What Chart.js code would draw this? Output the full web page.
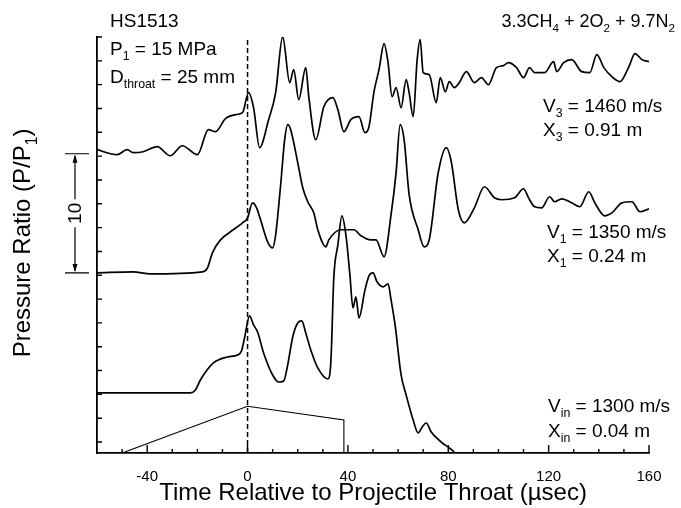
<!DOCTYPE html>
<html><head><meta charset="utf-8">
<script src="https://cdn.jsdelivr.net/npm/chart.js@4.4.1/dist/chart.umd.min.js"></script>
<style>html,body{margin:0;padding:0;background:#fff}#wrap{width:681px;height:508px}</style>
</head><body><div id="wrap"><canvas id="c" width="681" height="508"></canvas></div>
<script>
// ---- data (time in microseconds, pressure ratio P/P1) ----
const TIME_TOP = [-60,-52,-48,-45.6,-41.6,-36,-30.8,-26,-20,-15.6,-12.8,-8.8,-4.8,-2,0.4,2.4,4.8,8.4,11.2,14,16.8,18.4,20.4,23.2,24.4,27.2,30.4,34,36,38.4,41.2,44.4,46.8,48.4,50.4,52.4,54.4,56,57.6,59.2,61.2,63.2,64.4,66,67.6,68.8,70,72.4,75.2,76.8,78.8,80.4,82.4,84.4,87.2,90.4,93.2,96,99.2,102,104,107.2,110,112.4,114.4,118.4,122,123.2,126,129.2,133.2,136.4,139.2,142,145.2,148.4,152,154.4,157.2,160];
const P_TOP = [1.54,1.12,1.54,1.29,1.37,1.79,1.03,1.87,1.12,3.22,3.05,4.14,4.48,4.65,6.33,5.07,1.71,4.06,6.33,11.03,7.17,8.26,5.74,8.43,5.99,2.38,5.15,5.91,4.90,3.05,4.06,4.31,2.97,3.47,6.41,8.26,10.45,8.85,5.99,6.75,5.07,7.42,6.33,4.31,9.10,10.78,8.01,7.84,5.49,7.59,6.41,7.25,6.75,7.17,8.09,7.17,7.59,7.00,8.43,8.60,8.85,8.43,7.59,8.43,8.01,8.01,8.93,8.09,8.85,9.10,8.09,8.01,9.52,8.43,7.67,7.25,8.51,9.61,9.10,8.93];

const TIME_MID = [-60,-45.6,-38.8,-18,-16,-14,-10.8,-6.8,-2,0,2,3.6,5.2,8,10,11.2,13.2,14.8,16,17.2,20,22,24,26.4,28,31.2,32.4,37.2,42.4,45.2,49.2,51.2,54.4,57.2,59.2,60.8,62.4,64.4,68,70.4,72.4,76,79.2,81.2,84,86.4,90.4,94.4,98.4,101.2,106.4,110,112,114.4,117.2,120.4,122.4,125.2,129.2,132.4,136,138.4,142.4,145.2,149.2,153.2,156.4,160];
const P_MID = [1.20,1.29,1.12,1.29,1.60,2.88,3.97,4.65,5.40,5.82,7.08,6.66,5.66,3.81,3.30,4.39,8.60,12.38,13.64,13.22,10.45,8.34,7.17,6.24,4.82,3.39,3.97,4.82,4.82,4.31,3.97,3.97,2.55,6.08,9.61,13.64,12.38,7.76,4.82,3.39,3.97,9.61,11.71,10.53,6.50,5.40,6.66,8.43,7.50,7.34,7.50,8.26,7.50,6.75,6.66,7.59,7.17,7.42,7.08,6.75,8.01,7.08,5.99,6.24,7.08,7.17,6.33,6.58];

const TIME_IN = [-60,-22.8,-20.8,-18.8,-13.6,-8,-4,-2.4,-1.2,0.8,2.4,4,6.4,10,12.4,14.4,16,18,20,21.6,23.2,25.2,28,32,33.2,34.4,36,37.6,39.2,40.8,42,43.2,44.4,46.8,48.4,50,51.6,54,56,57.2,58.8,61.2,63.2,66,68,69.6,71.2,73.2,77.2,80.4,82.4];
const P_IN = [1.12,1.12,1.37,2.21,3.64,4.14,4.31,4.65,5.74,7.59,6.83,6.24,4.48,2.63,2.04,2.13,3.47,5.82,7.00,7.17,6.16,4.73,3.22,2.29,3.72,10.87,13.55,15.99,14.39,11.03,8.26,9.18,7.42,9.77,10.95,11.20,10.45,10.03,10.28,8.93,6.83,2.63,0.95,-1.15,-2.24,-1.74,-1.40,-2.16,-3.00,-3.50,-3.84];

// vertical offsets of the stacked traces (pressure-ratio units)
const OFFSET_TOP = 23, OFFSET_MID = 13, OFFSET_IN = 3;

// projectile trajectory sketch (time, plotted units)
const PROJ_T = [-50, 0, 38.4, 38.4];
const PROJ_Y = [-0.92, 3.0, 1.85, -0.92];

const X_LABELS = [-40, 0, 40, 80, 120, 160];
const X_MIN = -60, X_MAX = 160, Y_MIN = -0.92, Y_MAX = 34;
const SCALE_BAR_FROM = 14.2, SCALE_BAR_LEN = 10;

// ---- drawing ----
const FONT = '"Liberation Sans", Arial, Helvetica, sans-serif';
const pts = (t, p, off) => t.map((v, i) => ({x: v, y: p[i] + off}));

function rich(ctx, x, y, parts, size, align) {
  const subSize = size * 0.65;
  let total = 0;
  for (const [t, s] of parts) {
    ctx.font = (s ? subSize : size) + 'px ' + FONT;
    total += ctx.measureText(t).width;
  }
  let cx = align === 'right' ? x - total : (align === 'center' ? x - total / 2 : x);
  ctx.textAlign = 'left';
  ctx.textBaseline = 'alphabetic';
  for (const [t, s] of parts) {
    ctx.font = (s ? subSize : size) + 'px ' + FONT;
    ctx.fillText(t, cx, s ? y + size * 0.28 : y);
    cx += ctx.measureText(t).width;
  }
}

const deco = {
  id: 'deco',
  afterDraw(chart) {
    const ctx = chart.ctx, xs = chart.scales.x, ys = chart.scales.y;
    const a = chart.chartArea;
    ctx.save();
    ctx.strokeStyle = '#000'; ctx.fillStyle = '#000'; ctx.lineWidth = 1.4;
    ctx.beginPath();
    for (let v = -50; v <= 160; v += 10) {
      const px = xs.getPixelForValue(v);
      const len = (v % 40 === 0) ? 8 : 4;
      ctx.moveTo(px, a.bottom); ctx.lineTo(px, a.bottom - len);
    }
    for (let v = 0; v <= 34; v += 2) {
      const py = ys.getPixelForValue(v);
      ctx.moveTo(a.left, py); ctx.lineTo(a.left + 5, py);
    }
    ctx.stroke();

    // scale bar
    const y1 = ys.getPixelForValue(SCALE_BAR_FROM + SCALE_BAR_LEN);
    const y2 = ys.getPixelForValue(SCALE_BAR_FROM);
    const bx = 75, ym = (y1 + y2) / 2;
    ctx.lineWidth = 1.2;
    ctx.beginPath();
    ctx.moveTo(65, y1); ctx.lineTo(89, y1);
    ctx.moveTo(65, y2); ctx.lineTo(89, y2);
    ctx.moveTo(bx, y1 + 2); ctx.lineTo(bx, ym - 14);
    ctx.moveTo(bx, ym + 14); ctx.lineTo(bx, y2 - 2);
    ctx.stroke();
    ctx.beginPath();
    ctx.moveTo(bx, y1 + 1); ctx.lineTo(bx - 2.5, y1 + 9); ctx.lineTo(bx + 2.5, y1 + 9); ctx.closePath();
    ctx.moveTo(bx, y2 - 1); ctx.lineTo(bx - 2.5, y2 - 9); ctx.lineTo(bx + 2.5, y2 - 9); ctx.closePath();
    ctx.fill();
    ctx.save();
    ctx.translate(bx + 1, ym); ctx.rotate(-Math.PI / 2);
    ctx.font = '19px ' + FONT; ctx.textAlign = 'center'; ctx.textBaseline = 'middle';
    ctx.fillText('10', 0, 0);
    ctx.restore();

    // y axis title
    ctx.save();
    ctx.translate(30, 243); ctx.rotate(-Math.PI / 2);
    rich(ctx, 0, 0, [['Pressure Ratio (P/P', 0], ['1', 1], [')', 0]], 24, 'center');
    ctx.restore();

    // annotations
    const S = 19;
    rich(ctx, 110, 27, [['HS1513', 0]], S);
    rich(ctx, 110, 55, [['P', 0], ['1', 1], [' = 15 MPa', 0]], S);
    rich(ctx, 110, 83, [['D', 0], ['throat', 1], [' = 25 mm', 0]], S);
    rich(ctx, 675, 27, [['3.3CH', 0], ['4', 1], [' + 2O', 0], ['2', 1], [' + 9.7N', 0], ['2', 1]], 18, 'right');
    rich(ctx, 543, 112, [['V', 0], ['3', 1], [' = 1460 m/s', 0]], S);
    rich(ctx, 543, 136, [['X', 0], ['3', 1], [' = 0.91 m', 0]], S);
    rich(ctx, 547, 238, [['V', 0], ['1', 1], [' = 1350 m/s', 0]], S);
    rich(ctx, 547, 262, [['X', 0], ['1', 1], [' = 0.24 m', 0]], S);
    rich(ctx, 548, 412, [['V', 0], ['in', 1], [' = 1300 m/s', 0]], S);
    rich(ctx, 548, 437, [['X', 0], ['in', 1], [' = 0.04 m', 0]], S);
    ctx.restore();
  }
};

const trace = (data) => ({data, borderColor: '#000', borderWidth: 1.7, pointRadius: 0, fill: false, cubicInterpolationMode: 'monotone'});

new Chart(document.getElementById('c'), {
  type: 'line',
  data: {
    datasets: [
      trace(pts(TIME_TOP, P_TOP, OFFSET_TOP)),
      trace(pts(TIME_MID, P_MID, OFFSET_MID)),
      trace(pts(TIME_IN, P_IN, OFFSET_IN)),
      {data: [{x: 0, y: Y_MIN}, {x: 0, y: Y_MAX}], borderColor: '#000', borderWidth: 1.5, borderDash: [5, 3], pointRadius: 0, tension: 0},
      {data: PROJ_T.map((t, i) => ({x: t, y: PROJ_Y[i]})), borderColor: '#000', borderWidth: 1.1, pointRadius: 0, tension: 0}
    ]
  },
  options: {
    responsive: false, animation: false,
    layout: {padding: {left: 0, right: 32, top: 37, bottom: 0}},
    plugins: {legend: {display: false}, tooltip: {enabled: false}},
    scales: {
      x: {
        type: 'linear', min: X_MIN, max: X_MAX,
        afterFit: (s) => { s.height = 55; },
        grid: {display: false, drawTicks: false},
        border: {display: true, color: '#000', width: 1.8},
        ticks: {stepSize: 10, autoSkip: false, maxRotation: 0, padding: 15, color: '#000',
          font: {family: FONT, size: 15},
          callback: (v) => X_LABELS.includes(v) ? String(v) : ''},
        title: {display: true, text: 'Time Relative to Projectile Throat (\u00b5sec)', color: '#000',
          font: {family: FONT, size: 24}, padding: {top: 0, bottom: 0}}
      },
      y: {
        type: 'linear', min: Y_MIN, max: Y_MAX,
        afterFit: (s) => { s.width = 97; },
        grid: {display: false, drawTicks: false},
        border: {display: true, color: '#000', width: 1.8},
        ticks: {display: false}
      }
    }
  },
  plugins: [deco]
});
</script></body></html>
